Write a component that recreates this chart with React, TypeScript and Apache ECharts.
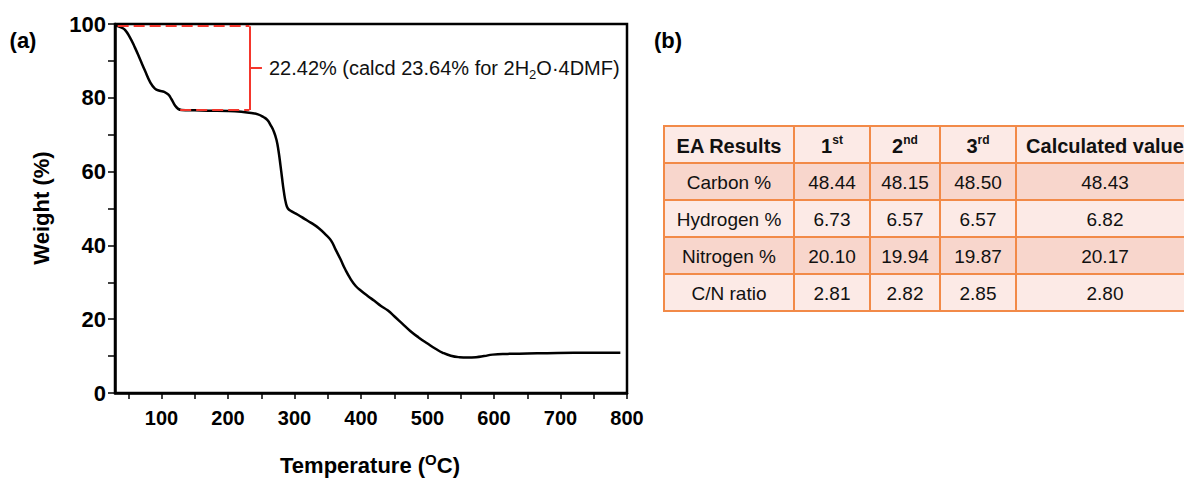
import React, { useEffect, useRef } from "react";
import * as echarts from "echarts";

// ---- TGA curve (Temperature °C, Weight %) ----
const temperature = [
  30, 40, 45, 52, 60, 68, 75, 83, 90, 97, 104, 110, 115, 120, 125, 130, 150, 170, 200, 220,
  235, 245, 253, 259, 264, 269, 273, 276, 279, 281, 284, 287, 290, 295, 305, 315, 325, 337,
  348, 355, 362, 369, 376, 384, 392, 400, 410, 420, 430, 440, 450, 462, 474, 487, 500, 512,
  523, 535, 548, 560, 573, 585, 598, 620, 650, 680, 720, 760, 790,
];
const weight = [
  99.7, 99.0, 98.4, 96.5, 93.6, 90.3, 87.4, 84.2, 82.5, 81.9, 81.6, 80.9, 79.6, 78.0, 77.0, 76.7,
  76.6, 76.5, 76.4, 76.2, 75.9, 75.5, 74.8, 74.0, 72.6, 70.8, 68.5, 65.5, 61.5, 58.6, 54.5, 51.5,
  50.0, 49.3, 48.3, 47.2, 46.1, 44.6, 42.7, 41.3, 38.8, 36.3, 33.6, 31.0, 29.0, 27.7, 26.3, 25.0,
  23.6, 22.4, 20.8, 18.8, 16.8, 15.0, 13.4, 12.0, 10.9, 10.1, 9.7, 9.6, 9.7, 10.0, 10.4, 10.6,
  10.7, 10.8, 10.9, 10.9, 10.9,
];

const xMin = 30;
const xMax = 800;
const xTickValues = [50, 100, 150, 200, 250, 300, 350, 400, 450, 500, 550, 600, 650, 700, 750, 800];
const xLabelValues = [100, 200, 300, 400, 500, 600, 700, 800];
const yTickValues = [0, 10, 20, 30, 40, 50, 60, 70, 80, 90, 100];
const yLabelValues = [0, 20, 40, 60, 80, 100];

// ---- mass-loss annotation ----
const lossTopWeight = 99.4;
const lossBottomWeight = 76.7;
const lossTopStartTemp = 34;
const lossBottomStartTemp = 128;
const lossBracketTemp = 232;
const lossTickEndTemp = 251;
const lossLabelWeight = 88.1;
const lossText = "22.42% (calcd 23.64% for 2H{sub|2}O·4DMF)";

// ---- EA table ----
const headerMain = ["EA Results", "1", "2", "3", "Calculated value"];
const headerSup = ["", "st", "nd", "rd", ""];
const rowLabels = ["Carbon %", "Hydrogen %", "Nitrogen %", "C/N ratio"];
const firstRun = [48.44, 6.73, 20.1, 2.81];
const secondRun = [48.15, 6.57, 19.94, 2.82];
const thirdRun = [48.5, 6.57, 19.87, 2.85];
const calculated = [48.43, 6.82, 20.17, 2.8];

const FONT = "'Liberation Sans', Arial, Helvetica, sans-serif";

function buildTable(): any[] {
  const colEdges = [664, 794, 870, 940, 1016, 1194];
  const top = 126;
  const rowH = 37;
  const light = "#FCEAE6";
  const dark = "#F8D6CC";
  const border = "#F28A48";
  const rows: string[][] = [headerMain.map((m, i) => (headerSup[i] ? `{b|${m}}{s|${headerSup[i]}}` : `{b|${m}}`))];
  rowLabels.forEach((lab, i) => {
    rows.push([
      lab,
      firstRun[i].toFixed(2),
      secondRun[i].toFixed(2),
      thirdRun[i].toFixed(2),
      calculated[i].toFixed(2),
    ]);
  });
  const rects: any[] = [];
  const texts: any[] = [];
  rows.forEach((row, r) => {
    const y = top + r * rowH;
    const fill = r % 2 === 1 ? dark : light;
    row.forEach((cell, c) => {
      const x0 = colEdges[c];
      const x1 = colEdges[c + 1];
      rects.push({
        type: "rect",
        shape: { x: x0, y, width: x1 - x0, height: rowH },
        style: { fill, stroke: border, lineWidth: 2 },
        z: 10,
      });
      const header = r === 0;
      texts.push({
        type: "text",
        x: (x0 + x1) / 2,
        y: y + rowH / 2 + 1,
        z: 11,
        style: {
          text: cell,
          align: "center",
          verticalAlign: "middle",
          fontFamily: FONT,
          fontSize: 19,
          fill: "#111",
          rich: header
            ? {
                b: { fontFamily: FONT, fontSize: 20, fontWeight: "bold", fill: "#111", lineHeight: 23 },
                s: { fontFamily: FONT, fontSize: 12, fontWeight: "bold", fill: "#111", verticalAlign: "top", lineHeight: 14 },
              }
            : undefined,
        },
      });
    });
  });
  return [...rects, ...texts];
}

export default function App() {
  const ref = useRef<HTMLDivElement>(null);
  useEffect(() => {
    if (!ref.current) return;
    const chart = echarts.init(ref.current, undefined, { renderer: "svg" });
    const axisLabelStyle = { color: "#000", fontFamily: FONT, fontWeight: "bold" as const };
    chart.setOption({
      animation: false,
      backgroundColor: "#fff",
      grid: {
        left: 115,
        top: 24,
        width: 512,
        height: 369,
        show: true,
        borderColor: "#000",
        borderWidth: 2.5,
        backgroundColor: "transparent",
      },
      xAxis: {
        type: "value",
        min: xMin,
        max: xMax,
        axisLine: { show: true, onZero: false, lineStyle: { color: "#000", width: 2.5 } },
        axisTick: { show: true, customValues: xTickValues, length: 6, inside: false, lineStyle: { color: "#000", width: 1.5 } },
        axisLabel: { ...axisLabelStyle, customValues: xLabelValues, fontSize: 20, margin: 15 },
        splitLine: { show: false },
      },
      yAxis: {
        type: "value",
        min: 0,
        max: 100,
        axisLine: { show: true, onZero: false, lineStyle: { color: "#000", width: 2.5 } },
        axisTick: { show: true, customValues: yTickValues, length: 7, inside: false, lineStyle: { color: "#000", width: 1.5 } },
        axisLabel: { ...axisLabelStyle, customValues: yLabelValues, fontSize: 22, margin: 9 },
        splitLine: { show: false },
      },
      series: [
        {
          type: "line",
          data: temperature.map((t, i) => [t, weight[i]]),
          showSymbol: false,
          smooth: 0.5,
          lineStyle: { color: "#000", width: 2.5 },
          itemStyle: { color: "#000" },
          z: 3,
          markLine: {
            silent: true,
            symbol: ["none", "none"],
            lineStyle: { color: "#F4362C", width: 2, type: "solid" },
            label: { show: false },
            data: [
              [
                { coord: [lossTopStartTemp, lossTopWeight], lineStyle: { color: "#F4362C", width: 2, type: [11, 5] } },
                { coord: [lossBracketTemp, lossTopWeight] },
              ],
              [
                { coord: [lossBottomStartTemp, lossBottomWeight], lineStyle: { color: "#F4362C", width: 2, type: [11, 5] } },
                { coord: [lossBracketTemp, lossBottomWeight] },
              ],
              [
                { coord: [lossBracketTemp, lossTopWeight], lineStyle: { color: "#F4362C", width: 2, type: "solid" } },
                { coord: [lossBracketTemp, lossBottomWeight] },
              ],
              [
                {
                  coord: [lossBracketTemp, lossLabelWeight],
                  lineStyle: { color: "#F4362C", width: 2, type: "solid" },
                  label: {
                    show: true,
                    position: "end",
                    distance: 7,
                    formatter: lossText,
                    color: "#111",
                    fontFamily: FONT,
                    fontSize: 20,
                    lineHeight: 27,
                    rich: {
                      sub: { fontFamily: FONT, fontSize: 13, color: "#111", verticalAlign: "bottom", lineHeight: 14 },
                    },
                  },
                },
                { coord: [lossTickEndTemp, lossLabelWeight] },
              ],
            ],
          },
        },
      ],
      graphic: [
        {
          type: "text",
          x: 23,
          y: 40,
          style: { text: "(a)", align: "center", verticalAlign: "middle", fontFamily: FONT, fontSize: 22, fontWeight: "bold", fill: "#000" },
        },
        {
          type: "text",
          x: 668,
          y: 40,
          style: { text: "(b)", align: "center", verticalAlign: "middle", fontFamily: FONT, fontSize: 22, fontWeight: "bold", fill: "#000" },
        },
        {
          type: "text",
          x: 41,
          y: 208,
          rotation: Math.PI / 2,
          style: { text: "Weight (%)", align: "center", verticalAlign: "middle", fontFamily: FONT, fontSize: 22, fontWeight: "bold", fill: "#000" },
        },
        {
          type: "text",
          x: 370,
          y: 465,
          style: {
            text: "{m|Temperature (}{s|O}{m|C)}",
            align: "center",
            verticalAlign: "middle",
            fontFamily: FONT,
            fontSize: 22,
            fontWeight: "bold",
            fill: "#000",
            rich: {
              m: { fontFamily: FONT, fontSize: 22, fontWeight: "bold", fill: "#000", lineHeight: 27 },
              s: { fontFamily: FONT, fontSize: 15, fontWeight: "bold", fill: "#000", verticalAlign: "top", lineHeight: 17 },
            },
          },
        },
        ...buildTable(),
      ],
    });
    return () => chart.dispose();
  }, []);
  return (
    <div
      ref={ref}
      style={{ position: "fixed", left: 0, top: 0, width: 1184, height: 480, background: "#fff" }}
    />
  );
}
